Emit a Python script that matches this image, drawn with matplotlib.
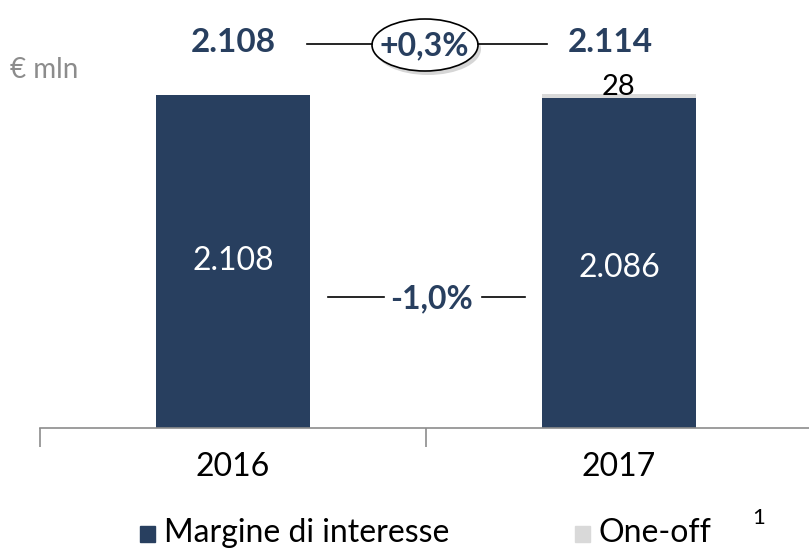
import matplotlib.pyplot as plt
from matplotlib.patches import Ellipse
import numpy as np

# Dati
anni = ['2016', '2017']
margine = [2108, 2086]
one_off = [0, 28]
totali = ['2.108', '2.114']
etichette_margine = ['2.108', '2.086']
var_totale = '+0,3%'
var_margine = '-1,0%'

blu = '#283F5F'
grigio = '#D9D9D9'
font = 'Lato'

W, H = 809, 549
fig = plt.figure(figsize=(W / 100, H / 100), dpi=100)

# Assi principali (in pixel: da x=40 a x=812, base a y=428)
ax = fig.add_axes([40 / W, 1 - 428 / H, 772 / W, 428 / H])
x = np.arange(len(anni))
ax.bar(x, margine, width=0.4, color=blu)
ax.bar(x, one_off, width=0.4, bottom=margine, color=grigio)
ax.set_xlim(-0.5, 1.5)
ax.set_ylim(0, 2709)

for s in ['top', 'right', 'left']:
    ax.spines[s].set_visible(False)
ax.spines['bottom'].set_color('#8C8C8C')
ax.spines['bottom'].set_linewidth(1.2)
ax.set_yticks([])
ax.set_xticks([-0.5, 0.5, 1.5])
ax.set_xticklabels([])
ax.tick_params(axis='x', length=14, width=1.2, color='#8C8C8C', direction='out')
for i, a in enumerate(anni):
    ax.text(i, -250, a, ha='center', va='center', fontsize=23, family=font, color='black')

# Etichette dentro le barre
for i, v in enumerate(margine):
    ax.text(i, v / 2 + (i * -30), etichette_margine[i], ha='center', va='center',
            fontsize=23, family=font, color='white')
ax.text(1, 2160, str(one_off[1]), ha='center', va='center',
        fontsize=21, family=font, color='black')

# Overlay in coordinate pixel
ov = fig.add_axes([0, 0, 1, 1], zorder=5)
ov.set_xlim(0, W)
ov.set_ylim(H, 0)
ov.axis('off')

ov.text(233, 43, totali[0], ha='center', va='center', fontsize=24, fontweight='bold',
        family=font, color=blu)
ov.text(610, 43, totali[1], ha='center', va='center', fontsize=24, fontweight='bold',
        family=font, color=blu)
ov.plot([307, 372], [44, 44], color='black', lw=1.2)
ov.plot([478, 547], [44, 44], color='black', lw=1.2)
ov.add_patch(Ellipse((428, 49), 106, 52, facecolor='#BBBBBB', edgecolor='none', alpha=0.6))
ov.add_patch(Ellipse((425, 45), 106, 52, facecolor='white', edgecolor='black', lw=1.2))
ov.text(424, 46, var_totale, ha='center', va='center', fontsize=23, fontweight='bold',
        family=font, color=blu)

ov.plot([328, 384], [297, 297], color='black', lw=1.2)
ov.plot([482, 525], [297, 297], color='black', lw=1.2)
ov.text(432, 299, var_margine, ha='center', va='center', fontsize=23, fontweight='bold',
        family=font, color=blu)

ov.text(10, 70, '€ mln', ha='left', va='center', fontsize=20, family=font, color='#8C8C8C')

# Legenda
ov.add_patch(plt.Rectangle((140, 526), 15, 16, color=blu))
ov.text(164, 533, 'Margine di interesse', ha='left', va='center', fontsize=23,
        family=font, color='black')
ov.add_patch(plt.Rectangle((575, 526), 15, 16, color=grigio))
ov.text(599, 533, 'One-off', ha='left', va='center', fontsize=23, family=font, color='black')
ov.text(752, 518, '1', ha='left', va='center', fontsize=16, family=font, color='black')

fig.savefig('out.png', dpi=100)
